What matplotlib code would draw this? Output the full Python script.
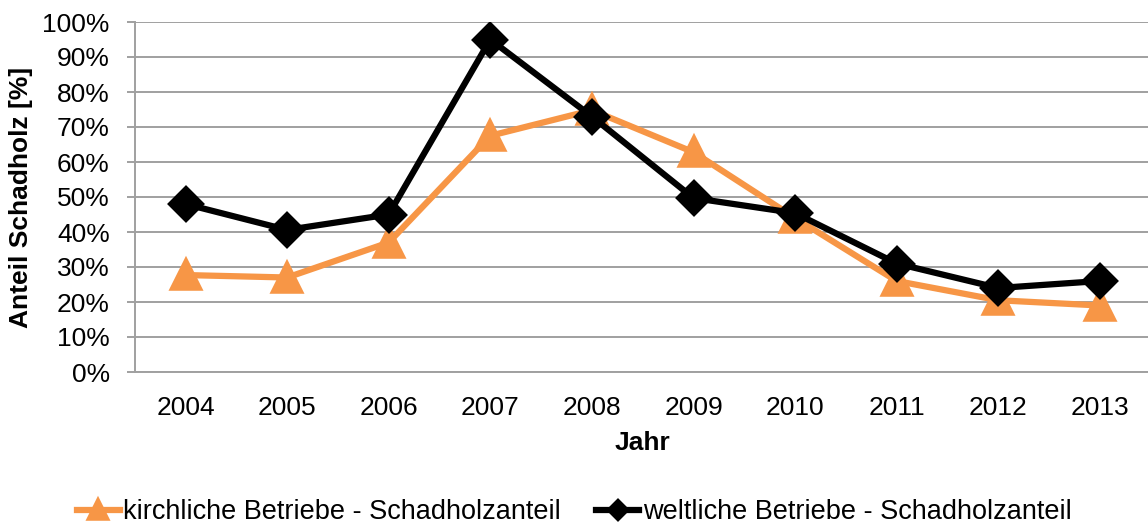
import matplotlib
matplotlib.use("Agg")
import matplotlib.pyplot as plt
from matplotlib.ticker import PercentFormatter

years = ["2004", "2005", "2006", "2007", "2008", "2009", "2010", "2011", "2012", "2013"]
kirchlich = [27.7, 27.0, 37.0, 67.5, 74.8, 62.8, 44.0, 26.0, 20.5, 19.0]
weltlich = [48.0, 40.6, 45.0, 95.0, 73.0, 49.7, 45.4, 31.0, 24.0, 26.0]
label_k = "kirchliche Betriebe - Schadholzanteil"
label_w = "weltliche Betriebe - Schadholzanteil"

plt.rcParams['font.family'] = ['Liberation Sans', 'DejaVu Sans']
FS = 19

fig = plt.figure(figsize=(11.48, 5.26), dpi=100)
ax = fig.add_axes([134.7 / 1148, 1 - 372 / 526, 1016 / 1148, 350 / 526])

x = list(range(len(years)))
ax.plot(x, kirchlich, color='#F79646', lw=4.5, marker='^', ms=19, mew=4,
        mec='#F79646', mfc='#F79646', solid_joinstyle='round', label=label_k, zorder=3)
ax.plot(x, weltlich, color='black', lw=4.5, marker='D', ms=16, mew=3,
        mec='black', mfc='black', label=label_w, zorder=4)

ax.set_xlim(-0.5, len(years) - 0.5)
ax.set_ylim(0, 100)
ax.set_yticks(range(0, 101, 10))
ax.yaxis.set_major_formatter(PercentFormatter(decimals=0))
ax.set_xticks(x)
ax.set_xticklabels(years)
ax.grid(axis='y', color='#a0a0a0', lw=1.4, zorder=0)
ax.set_axisbelow(True)
for s in ['top', 'right']:
    ax.spines[s].set_visible(False)
for s in ['left', 'bottom']:
    ax.spines[s].set_color('#a0a0a0')
    ax.spines[s].set_linewidth(1.4)
ax.tick_params(axis='y', length=6, color='#a0a0a0', width=1.4, labelsize=FS, pad=12)
ax.tick_params(axis='x', length=0, labelsize=FS, pad=17)

ax.set_xlabel("Jahr", fontsize=FS, fontweight='bold', labelpad=8)
ax.set_ylabel("Anteil Schadholz [%]", fontsize=FS, fontweight='bold', labelpad=7)

fig.legend(loc='center', bbox_to_anchor=(0.5, 1 - 512 / 526), ncol=2, frameon=False,
           fontsize=19.5, handlelength=1.6, handletextpad=0.12, columnspacing=1.3,
           borderaxespad=0, markerscale=0.6)

fig.savefig("out.png", dpi=100)
